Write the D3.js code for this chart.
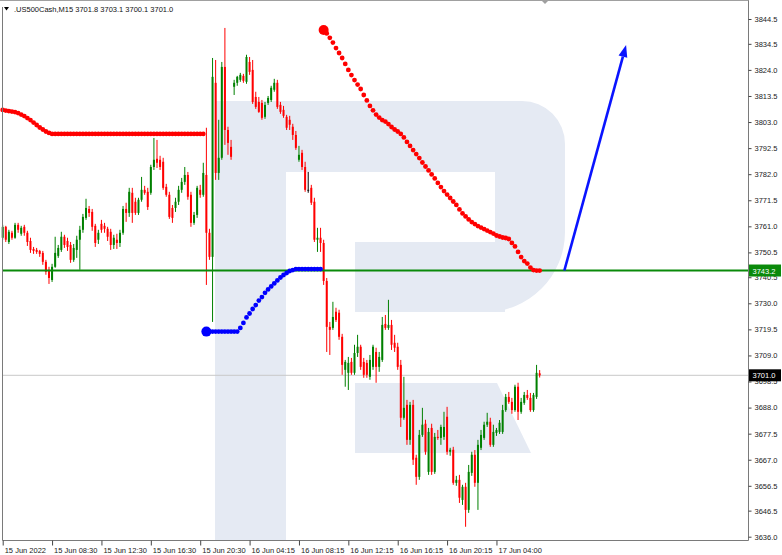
<!DOCTYPE html>
<html><head><meta charset="utf-8">
<script src="https://cdn.jsdelivr.net/npm/d3@7"></script>
<style>
body{margin:0;background:#fff;}
svg{display:block;}
text{font-family:"Liberation Sans",Arial,sans-serif;}
</style>
</head><body>
<svg id="chart" width="782" height="555"></svg>
<script>
// ---------- DATA ----------
const symbolTitle = ".US500Cash,M15";
const lastOHLC = [3701.8, 3703.1, 3700.1, 3701.0];

const openP = [
3756.4,3760.8,3754.7,3758.4,3756.4,3761.6,3758.0,3760.8,3758.4,3755.1,
3751.9,3751.5,3751.1,3750.3,3746.7,3743.5,3739.4,3744.7,3749.1,3751.5,
3756.8,3755.1,3753.5,3747.5,3751.5,3755.6,3759.6,3764.4,3768.0,3766.8,
3761.2,3755.6,3762.0,3761.2,3760.0,3758.8,3753.5,3755.6,3754.3,3758.4,
3768.0,3766.4,3774.5,3770.9,3766.4,3771.7,3775.7,3774.9,3774.5,3784.9,
3788.2,3787.8,3787.0,3776.9,3773.7,3768.4,3768.4,3770.9,3775.7,3778.9,
3781.7,3773.7,3762.4,3765.6,3775.7,3773.7,3781.7,3758.4,3748.7,3818.8,
3782.5,3788.6,3825.2,3799.8,3793.0,3817.2,3818.8,3820.0,3821.6,3819.2,
3827.2,3824.0,3813.1,3811.1,3810.7,3805.1,3810.7,3811.9,3816.0,3818.8,
3809.9,3807.9,3805.1,3803.9,3801.1,3797.8,3787.8,3790.6,3784.9,3775.7,
3776.5,3770.9,3755.6,3756.4,3754.3,3739.0,3720.5,3720.1,3726.6,3726.2,
3716.5,3703.2,3702.0,3706.4,3702.0,3710.0,3712.5,3706.4,3706.0,3700.4,
3704.4,3710.4,3704.4,3707.2,3721.7,3720.1,3721.3,3714.1,3712.5,3705.2,
3683.9,3689.1,3675.0,3689.1,3667.8,3660.1,3677.0,3681.5,3662.1,3679.8,
3662.1,3676.2,3675.8,3676.2,3684.3,3670.2,3671.0,3657.7,3658.9,3650.8,
3656.1,3646.8,3661.7,3669.0,3657.7,3671.8,3675.8,3681.1,3682.3,3673.0,
3677.8,3678.2,3678.2,3687.0,3692.3,3690.3,3687.0,3696.4,3686.3,3689.9,
3693.1,3691.9,3687.0,3692.3,3701.8];
const highP = [
3761.6,3761.2,3759.6,3759.2,3762.4,3762.4,3761.2,3761.6,3759.2,3756.4,
3752.7,3752.3,3751.5,3751.1,3747.5,3744.7,3745.9,3756.8,3753.5,3758.8,
3757.6,3756.4,3754.7,3753.9,3757.2,3761.2,3766.0,3772.1,3769.2,3768.0,
3762.0,3759.6,3763.6,3762.4,3760.8,3760.0,3757.6,3758.0,3759.6,3769.2,
3770.5,3776.5,3776.5,3772.5,3772.5,3780.9,3777.3,3776.5,3785.8,3796.6,
3795.8,3789.4,3788.6,3778.1,3774.9,3769.6,3772.5,3777.3,3780.5,3784.9,
3782.9,3774.9,3766.8,3777.3,3777.7,3786.6,3800.7,3760.0,3828.8,3828.0,
3803.9,3827.2,3840.9,3801.1,3795.8,3820.0,3821.6,3822.8,3822.4,3830.1,
3829.2,3828.0,3815.2,3813.1,3811.9,3811.1,3813.5,3817.6,3820.4,3820.0,
3811.1,3809.5,3805.9,3805.5,3802.3,3799.4,3793.4,3791.8,3787.0,3782.9,
3777.7,3772.5,3760.4,3760.4,3755.6,3740.2,3722.5,3730.6,3728.2,3727.4,
3717.7,3707.2,3708.4,3708.0,3713.3,3717.3,3713.3,3708.0,3707.2,3709.2,
3713.3,3712.1,3710.4,3724.5,3725.3,3731.4,3723.3,3717.3,3714.1,3707.2,
3700.4,3691.1,3690.3,3691.1,3669.0,3679.0,3687.9,3683.1,3679.8,3681.5,
3677.8,3679.0,3681.1,3686.3,3688.3,3671.8,3672.2,3660.5,3660.9,3656.9,
3657.7,3664.9,3670.2,3670.9,3675.0,3679.0,3682.3,3685.9,3683.9,3681.1,
3679.8,3683.0,3689.1,3693.5,3694.3,3691.9,3697.2,3698.0,3691.9,3694.3,
3695.1,3693.9,3693.9,3705.2,3703.1];
const lowP = [
3755.6,3754.7,3753.9,3755.6,3756.0,3758.4,3757.2,3757.2,3753.1,3750.3,
3749.9,3749.9,3748.7,3745.5,3741.5,3737.8,3738.6,3744.3,3748.3,3750.7,
3752.3,3751.1,3746.3,3746.7,3748.3,3743.5,3758.4,3763.6,3764.8,3759.2,
3752.7,3753.9,3758.4,3758.4,3755.1,3751.5,3751.9,3751.9,3752.7,3757.6,
3762.8,3764.8,3762.4,3765.6,3765.6,3770.9,3773.7,3767.6,3773.7,3783.7,
3784.5,3783.7,3775.7,3772.9,3764.0,3762.4,3766.8,3769.6,3774.5,3777.7,
3771.7,3760.8,3761.6,3764.4,3772.5,3772.9,3737.4,3747.5,3722.5,3779.7,
3779.7,3787.8,3793.8,3789.8,3787.8,3813.9,3817.6,3819.2,3818.8,3818.4,
3822.0,3810.3,3808.3,3806.7,3803.9,3804.3,3809.9,3811.1,3815.2,3808.3,
3806.3,3804.7,3799.8,3799.8,3795.8,3791.8,3787.0,3783.7,3774.9,3774.5,
3769.6,3754.7,3750.7,3750.7,3737.4,3710.4,3709.2,3719.3,3722.5,3715.3,
3701.2,3696.4,3695.1,3701.2,3701.2,3708.4,3703.2,3700.0,3700.0,3699.2,
3703.2,3698.0,3702.4,3706.4,3719.3,3719.3,3711.2,3710.4,3703.2,3680.2,
3683.1,3673.0,3673.0,3664.9,3656.9,3658.9,3676.2,3669.0,3660.9,3660.9,
3661.3,3675.0,3673.0,3675.0,3669.0,3668.6,3656.9,3656.5,3649.6,3648.8,
3640.0,3645.6,3660.5,3656.1,3646.8,3670.9,3675.0,3680.2,3672.2,3672.2,
3676.6,3677.4,3677.4,3686.3,3689.5,3685.5,3686.3,3683.0,3685.5,3689.1,
3691.1,3686.3,3686.3,3691.5,3700.1];
const closeP = [
3760.8,3755.6,3758.8,3756.4,3761.6,3759.6,3760.4,3758.4,3754.7,3751.5,
3751.1,3750.7,3749.9,3746.7,3742.7,3740.2,3744.7,3750.3,3752.3,3756.8,
3753.5,3752.7,3747.5,3752.3,3755.6,3759.6,3764.8,3768.4,3766.4,3760.8,
3754.3,3758.4,3759.6,3760.0,3756.8,3753.5,3756.4,3754.3,3758.4,3768.0,
3766.4,3774.9,3766.4,3766.4,3771.7,3775.7,3774.5,3768.8,3784.9,3787.8,
3786.6,3784.9,3776.5,3773.7,3764.8,3764.4,3770.9,3775.7,3778.9,3781.7,
3772.9,3762.4,3765.6,3776.5,3773.7,3782.5,3758.4,3748.7,3821.2,3782.5,
3788.6,3825.2,3799.8,3794.6,3789.0,3818.8,3821.2,3822.0,3819.6,3829.2,
3823.2,3811.1,3809.1,3807.1,3804.7,3809.9,3812.7,3816.8,3818.8,3809.1,
3807.1,3805.5,3800.7,3801.9,3797.8,3792.6,3789.8,3784.9,3775.7,3775.7,
3770.5,3755.6,3756.4,3754.3,3739.0,3720.5,3719.3,3724.5,3723.3,3716.5,
3705.2,3706.4,3706.0,3702.0,3710.0,3712.5,3704.4,3701.2,3701.2,3707.2,
3712.5,3704.4,3708.4,3721.3,3720.1,3721.3,3713.3,3712.1,3704.4,3683.9,
3687.9,3675.0,3689.1,3667.0,3660.1,3677.0,3681.1,3670.2,3678.2,3662.1,
3676.2,3675.8,3680.2,3680.2,3670.2,3671.0,3657.7,3658.9,3651.7,3656.1,
3646.8,3662.1,3669.0,3657.7,3673.0,3677.0,3681.1,3682.3,3673.0,3678.2,
3679.0,3681.9,3687.0,3692.3,3690.3,3687.0,3696.4,3686.3,3690.3,3693.1,
3691.9,3687.0,3693.1,3702.0,3701.0];

// indicator dots (one per bar)
const redUpperStart = 0;
const redUpper = [
3807.9,3807.6,3807.4,3807.2,3807.0,3806.6,3806.0,3805.4,3804.6,3803.8,
3802.8,3801.8,3800.8,3800.0,3799.2,3798.6,3798.2,3798.2,3798.2,3798.2,
3798.2,3798.2,3798.2,3798.2,3798.2,3798.2,3798.2,3798.2,3798.2,3798.2,
3798.2,3798.2,3798.2,3798.2,3798.2,3798.2,3798.2,3798.2,3798.2,3798.2,
3798.2,3798.2,3798.2,3798.2,3798.2,3798.2,3798.2,3798.2,3798.2,3798.2,
3798.2,3798.2,3798.2,3798.2,3798.2,3798.2,3798.2,3798.2,3798.2,3798.2,
3798.2,3798.2,3798.2,3798.2,3798.2,3798.2];
const blueStart = 66;
const blueDots = [
3718.6,3718.6,3718.6,3718.6,3718.6,3718.6,3718.6,3718.6,3718.6,3718.6,
3718.6,3720.1,3722.1,3724.3,3725.9,3727.7,3729.3,3731.1,3732.5,3734.2,
3735.6,3736.8,3738.0,3739.2,3740.4,3741.4,3742.2,3743.0,3743.4,3743.8,
3743.8,3743.8,3743.8,3743.8,3743.8,3743.8,3743.8,3743.8];
const redLowerStart = 104;
const redLower = [
3840.1,3838.7,3836.9,3835.0,3832.8,3830.8,3828.8,3826.4,3824.0,3821.9,
3819.9,3818.1,3816.3,3813.9,3811.7,3809.5,3807.7,3806.0,3804.8,3803.8,
3803.2,3802.2,3801.0,3800.0,3799.2,3798.2,3796.8,3795.0,3793.4,3791.7,
3790.1,3788.5,3786.7,3785.1,3783.5,3781.9,3780.3,3778.5,3776.8,3775.2,
3773.8,3772.4,3771.0,3769.6,3767.8,3766.2,3765.0,3763.8,3762.7,3761.9,
3761.1,3760.5,3759.9,3759.3,3758.7,3758.1,3757.3,3756.9,3756.5,3756.3,
3755.9,3754.3,3752.9,3750.7,3748.6,3747.0,3746.0,3744.4,3743.4,3743.2,
3743.2];

const levelPrice = 3743.2;
const lastPrice = 3701.0;
const arrowFrom = {bar: 182, price: 3743.2};
const arrowTo = {bar: 202, price: 3834.0};

const yTickValues = [3844.5,3834.5,3824.0,3813.5,3803.0,3792.5,3782.0,3771.5,3761.0,3750.5,3740.5,3730.0,3719.5,3709.0,3698.5,3688.0,3677.5,3667.0,3656.5,3646.5,3636.0];
const xTickBars = [0,16,32,48,64,80,96,112,128,144,160];
const xTickLabels = ["15 Jun 2022","15 Jun 08:30","15 Jun 12:30","15 Jun 16:30","15 Jun 20:30","16 Jun 04:15","16 Jun 08:15","16 Jun 12:15","16 Jun 16:15","16 Jun 20:15","17 Jun 04:00"];

// ---------- LAYOUT ----------
const W = 782, H = 555;
const plotL = 2.5, plotR = 748.5, plotT = 0.5, plotB = 540.5;
const svg = d3.select("#chart");

const x = d3.scaleLinear().domain([0, 174]).range([2.7, 2.7 + 174 * 3.086]);
const y = d3.scaleLinear().domain([3636.0, 3844.5]).range([536.7, 19]);

const bull = "#008000", bear = "#ff0000";
const wmColor = "#e5eaf3";

// ---------- WATERMARK ----------
const wm = svg.append("g");
wm.append("rect").attr("x",215).attr("y",101).attr("width",71).attr("height",439).attr("fill",wmColor);
wm.append("rect").attr("x",215).attr("y",101).attr("width",290).attr("height",71).attr("fill",wmColor);
wm.append("rect").attr("x",355).attr("y",242).attr("width",150).attr("height",70).attr("fill",wmColor);
wm.append("path").attr("d","M495,101 H522 A43,43 0 0 1 565,144 V232 A80,80 0 0 1 485,312 H495 Z").attr("fill",wmColor);
wm.append("path").attr("d","M355,383 H497 L531,453 H355 Z").attr("fill",wmColor);

// ---------- LEVEL LINES ----------
svg.append("line").attr("x1",plotL).attr("x2",plotR).attr("y1",y(lastPrice)).attr("y2",y(lastPrice))
  .attr("stroke","#c8c8c8").attr("stroke-width",1);

// ---------- CANDLES ----------
const bars = d3.range(openP.length).map(i => ({i, o:openP[i], h:highP[i], l:lowP[i], c:closeP[i]}));
const colorOf = d => d.c > d.o ? bull : (d.c < d.o ? bear : "#000");
const cg = svg.append("g");
cg.selectAll("line.wick").data(bars).join("line")
  .attr("x1", d => x(d.i)).attr("x2", d => x(d.i))
  .attr("y1", d => y(d.h)).attr("y2", d => y(d.l))
  .attr("stroke", colorOf).attr("stroke-width", 1);
cg.selectAll("rect.body").data(bars).join("rect")
  .attr("x", d => x(d.i) - 1).attr("width", 2)
  .attr("y", d => y(Math.max(d.o, d.c)))
  .attr("height", d => Math.max(0.8, Math.abs(y(d.o) - y(d.c))))
  .attr("fill", colorOf);

// green level
svg.append("line").attr("x1",plotL).attr("x2",plotR).attr("y1",y(levelPrice)).attr("y2",y(levelPrice))
  .attr("stroke","#0a8a0a").attr("stroke-width",2);

// ---------- DOTS ----------
function dots(arr, start, color, bigFirst){
  const g = svg.append("g");
  g.selectAll("circle").data(arr).join("circle")
    .attr("cx", (d,k) => x(start + k)).attr("cy", d => y(d))
    .attr("r", (d,k) => (bigFirst && k === 0) ? 5 : 2.4)
    .attr("fill", color);
}
dots(redUpper, redUpperStart, "#ff0000", false);
dots(blueDots, blueStart, "#0000ff", true);
dots(redLower, redLowerStart, "#ff0000", true);

// ---------- ARROW ----------
const ax1 = x(arrowFrom.bar), ay1 = y(arrowFrom.price), ax2 = x(arrowTo.bar), ay2 = y(arrowTo.price);
const ang = Math.atan2(ay2 - ay1, ax2 - ax1);
const hl = 12, hw = 4.5;
const bx = ax2 - hl*Math.cos(ang), by = ay2 - hl*Math.sin(ang);
svg.append("line").attr("x1",ax1).attr("y1",ay1).attr("x2",bx).attr("y2",by)
  .attr("stroke","#0a14ff").attr("stroke-width",2.6);
svg.append("path").attr("d",
  `M${ax2},${ay2} L${bx + hw*Math.sin(ang)},${by - hw*Math.cos(ang)} L${bx - hw*Math.sin(ang)},${by + hw*Math.cos(ang)} Z`)
  .attr("fill","#0a14ff");

// ---------- FRAME ----------
svg.append("line").attr("x1",plotL).attr("x2",plotL).attr("y1",7).attr("y2",plotB).attr("stroke","#7a7a7a");
svg.append("line").attr("x1",plotL).attr("x2",plotR).attr("y1",plotB).attr("y2",plotB).attr("stroke","#7a7a7a");
svg.append("line").attr("x1",plotR).attr("x2",plotR).attr("y1",0).attr("y2",plotB).attr("stroke","#7a7a7a");
svg.append("line").attr("x1",0).attr("x2",plotR).attr("y1",0.5).attr("y2",0.5).attr("stroke","#a0a0a0");
svg.append("path").attr("d","M541,0 L549,0 L545,4 Z").attr("fill","#a0a0a0");

// ---------- AXES ----------
const yAxis = d3.axisRight(y).tickValues(yTickValues).tickFormat(d3.format(".1f")).tickSize(3).tickPadding(3);
const yg = svg.append("g").attr("transform",`translate(${plotR},0)`).call(yAxis);
yg.select(".domain").remove();
yg.selectAll("line").attr("stroke","#444");
yg.selectAll("text").attr("font-size","7.5px").attr("fill","#222");

const xAxis = d3.axisBottom(x).tickValues(xTickBars).tickFormat((d,k) => xTickLabels[k]).tickSize(5).tickPadding(2);
const xg = svg.append("g").attr("transform",`translate(0,${plotB})`).call(xAxis);
xg.select(".domain").remove();
xg.selectAll("line").attr("stroke","#444");
xg.selectAll("text").attr("font-size","7.5px").attr("fill","#222").attr("text-anchor","start").attr("dx","1.5");

// ---------- PRICE TAGS ----------
function tag(price, bg){
  const yy = y(price);
  svg.append("rect").attr("x",plotR+0.5).attr("y",yy-6).attr("width",32).attr("height",12).attr("fill",bg);
  svg.append("text").attr("x",plotR+4).attr("y",yy+3).attr("font-size","7.5px").attr("fill","#fff").text(d3.format(".1f")(price));
}
tag(levelPrice, "#0a8a0a");
tag(lastPrice, "#000");

// ---------- HEADER ----------
svg.append("path").attr("d","M4,7 L9,7 L6.5,10.5 Z").attr("fill","#000");
svg.append("text").attr("x",14).attr("y",12).attr("font-size","7.5px").attr("fill","#111")
  .text(symbolTitle + "  " + lastOHLC.map(v => v.toFixed(1)).join(" "));
</script>
</body></html>
